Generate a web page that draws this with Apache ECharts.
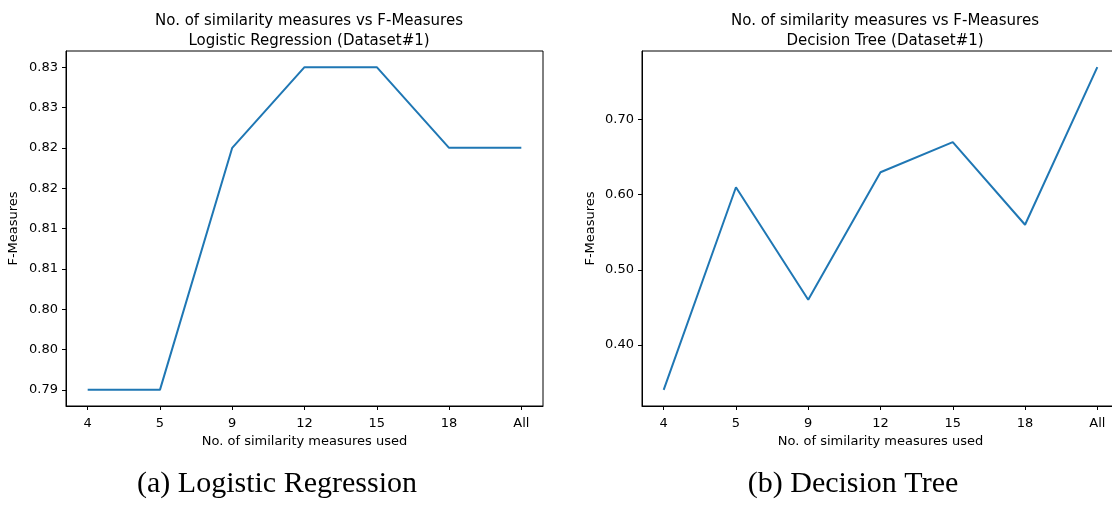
<!DOCTYPE html>
<html>
<head>
<meta charset="utf-8">
<script src="https://cdn.jsdelivr.net/npm/echarts@6/dist/echarts.min.js"></script>
<style>
  html, body { margin: 0; padding: 0; background: #fff; }
  #chart { width: 1112px; height: 508px; }
</style>
</head>
<body>
<div id="chart"></div>
<script>
// data
const categories = ['4', '5', '9', '12', '15', '18', 'All'];
const lrValues = [0.79, 0.79, 0.82, 0.83, 0.83, 0.82, 0.82];
const dtValues = [0.34, 0.61, 0.46, 0.63, 0.67, 0.56, 0.77];

const lrTickValues = [0.79, 0.795, 0.80, 0.805, 0.81, 0.815, 0.82, 0.825, 0.83];
const lrTickLabels = ['0.79', '0.80', '0.80', '0.81', '0.81', '0.82', '0.82', '0.83', '0.83'];
const dtTickValues = [0.40, 0.50, 0.60, 0.70];
const dtTickLabels = ['0.40', '0.50', '0.60', '0.70'];

const FONT = 'DejaVu Sans';
const LINE = '#1f77b4';

let chart = echarts.init(document.getElementById('chart'));

function xAxisFor(gridIndex) {
  return {
    type: 'value',
    gridIndex: gridIndex,
    min: -0.3,
    max: 6.3,
    name: 'No. of similarity measures used',
    nameLocation: 'middle',
    nameGap: 29,
    nameTextStyle: { fontFamily: FONT, fontSize: 13, color: '#000' },
    axisLine: { show: true, onZero: false, lineStyle: { color: '#000', width: 1 } },
    axisTick: { show: true, length: 4, customValues: categories.map((c, i) => i), lineStyle: { color: '#000' } },
    axisLabel: {
      customValues: categories.map((c, i) => i),
      formatter: v => categories[Math.round(v)],
      fontFamily: FONT, fontSize: 13, color: '#000', margin: 11
    },
    splitLine: { show: false }
  };
}

function yAxisFor(gridIndex, min, max, ticks, labels, gap) {
  return {
    type: 'value',
    gridIndex: gridIndex,
    min: min,
    max: max,
    name: 'F-Measures',
    nameLocation: 'middle',
    nameGap: gap,
    nameRotate: 90,
    nameTextStyle: { fontFamily: FONT, fontSize: 13, color: '#000' },
    axisLine: { show: true, onZero: false, lineStyle: { color: '#000', width: 1 } },
    axisTick: { show: true, length: 4, customValues: ticks, lineStyle: { color: '#000' } },
    axisLabel: {
      customValues: ticks,
      formatter: v => {
        let best = 0;
        ticks.forEach((t, i) => { if (Math.abs(t - v) < Math.abs(ticks[best] - v)) best = i; });
        return labels[best];
      },
      fontFamily: FONT, fontSize: 13, color: '#000', margin: 8
    },
    splitLine: { show: false }
  };
}

let option = {
  backgroundColor: '#fff',
  animation: false,
  title: [
    {
      text: 'No. of similarity measures vs F-Measures\nLogistic Regression (Dataset#1)',
      left: 304, top: 6, textAlign: 'center',
      textStyle: { fontFamily: FONT, fontSize: 15, fontWeight: 'normal', color: '#000', lineHeight: 20 }
    },
    {
      text: 'No. of similarity measures vs F-Measures\nDecision Tree (Dataset#1)',
      left: 880, top: 6, textAlign: 'center',
      textStyle: { fontFamily: FONT, fontSize: 15, fontWeight: 'normal', color: '#000', lineHeight: 20 }
    }
  ],
  grid: [
    { left: 66, top: 51, width: 477, height: 355, show: true, borderColor: '#000', borderWidth: 1, containLabel: false, outerBoundsMode: 'none' },
    { left: 642, top: 51, width: 477, height: 355, show: true, borderColor: '#000', borderWidth: 1, containLabel: false, outerBoundsMode: 'none' }
  ],
  xAxis: [xAxisFor(0), xAxisFor(1)],
  yAxis: [
    yAxisFor(0, 0.788, 0.832, lrTickValues, lrTickLabels, 46),
    yAxisFor(1, 0.3185, 0.7915, dtTickValues, dtTickLabels, 45)
  ],
  series: [
    {
      type: 'line', xAxisIndex: 0, yAxisIndex: 0,
      data: lrValues.map((v, i) => [i, v]),
      showSymbol: false, lineStyle: { color: LINE, width: 2 }
    },
    {
      type: 'line', xAxisIndex: 1, yAxisIndex: 1,
      data: dtValues.map((v, i) => [i, v]),
      showSymbol: false, lineStyle: { color: LINE, width: 2 }
    }
  ],
  graphic: [
    {
      type: 'text', x: 277, y: 484,
      style: { text: '(a) Logistic Regression', fontFamily: 'Liberation Serif', fontSize: 30, fill: '#000', textAlign: 'center', textVerticalAlign: 'middle' }
    },
    {
      type: 'text', x: 853, y: 484,
      style: { text: '(b) Decision Tree', fontFamily: 'Liberation Serif', fontSize: 30, fill: '#000', textAlign: 'center', textVerticalAlign: 'middle' }
    }
  ]
};

chart.setOption(option);
</script>
</body>
</html>
